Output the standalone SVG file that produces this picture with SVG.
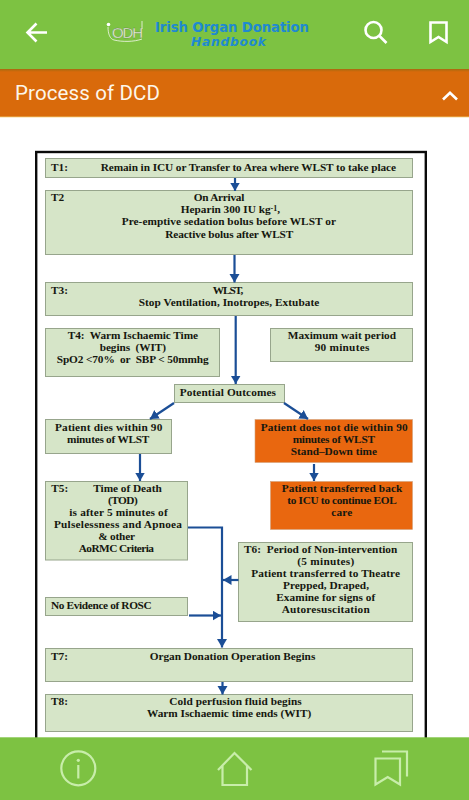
<svg xmlns="http://www.w3.org/2000/svg" width="469" height="800" viewBox="0 0 469 800">
<style>
.box{fill:#d6e5c8;stroke:#97a58c;stroke-width:1}
.obox{fill:#e9670f;stroke:#d2a27c;stroke-width:.6}
text{font-family:"Liberation Serif","DejaVu Serif",serif;font-weight:700;font-size:11.3px;fill:#15170f;white-space:pre}
.conn{fill:none;stroke:#1b4e96;stroke-width:2.2}
.ic{fill:none;stroke:#fff;stroke-width:2.6}
.fi{fill:none;stroke:#c8edaa;stroke-width:2.2}
</style>
<defs>
<marker id="ah" markerUnits="userSpaceOnUse" markerWidth="10" markerHeight="11" refX="8.5" refY="5" orient="auto"><path d="M0 0L8.5 5L0 10Z" fill="#1b4e96"/></marker>
<linearGradient id="sh" x1="0" y1="0" x2="0" y2="1"><stop offset="0" stop-color="#a86a10"/><stop offset="1" stop-color="#d96a0b"/></linearGradient>
</defs>
<rect width="469" height="800" fill="#fff"/>
<g id="frame"><rect x="36.2" y="152" width="389.6" height="640" fill="#fff" stroke="#0a0a0a" stroke-width="2.4"/></g>

<g id="t1"><rect class="box" x="45.5" y="158.5" width="367" height="19"/>
<text x="51" y="171">T1:</text><text x="100.7" y="171" textLength="295.3">Remain in ICU or Transfer to Area where WLST to take place</text></g>
<g id="t2"><rect class="box" x="45.5" y="190.5" width="367" height="64"/>
<text x="51" y="201">T2</text>
<text x="193.7" y="201" textLength="50.6">On Arrival</text>
<text x="180.7" y="213" textLength="99.3">Heparin 300 IU kg<tspan dy="-2.5" font-size="8">-1</tspan><tspan dy="2.5">,</tspan></text>
<text x="121.7" y="225" textLength="214.3">Pre-emptive sedation bolus before WLST or</text>
<text x="165.3" y="237.5" textLength="128">Reactive bolus after WLST</text></g>
<g id="t3"><rect class="box" x="45.5" y="282.5" width="367" height="33"/>
<text x="51" y="293.5">T3:</text>
<text x="212.7" y="293.5" textLength="30.6">WLST,</text>
<text x="138.7" y="305.5" textLength="180.6">Stop Ventilation, Inotropes, Extubate</text></g>
<g id="t4"><rect class="box" x="45.5" y="328.5" width="174" height="48"/>
<text x="67.7" y="338.8" textLength="130.3">T4:  Warm Ischaemic Time</text>
<text x="99.7" y="350.8" textLength="66.3">begins  (WIT)</text>
<text x="56.7" y="363.2" textLength="152">SpO2 &lt;70%  or  SBP &lt; 50mmhg</text></g>
<g id="max-wait"><rect class="box" x="270.5" y="328.5" width="142" height="33"/>
<text x="287.7" y="338.8" textLength="108.3">Maximum wait period</text>
<text x="314.7" y="350.8" textLength="54.6">90 minutes</text></g>
<g id="outcomes"><rect class="box" x="174.5" y="384.5" width="110" height="18"/>
<text x="179.7" y="395.5" textLength="96.3">Potential Outcomes</text></g>
<g id="dies"><rect class="box" x="45.5" y="419.5" width="126" height="34"/>
<text x="55" y="430.5" textLength="107.3">Patient dies within 90</text>
<text x="67" y="442.8" textLength="82.3">minutes of WLST</text></g>
<g id="not-die"><rect class="obox" x="255" y="419.5" width="157.5" height="43"/>
<text x="260.7" y="430.5" textLength="147">Patient does not die within 90</text>
<text x="292.7" y="442.8" textLength="82.3">minutes of WLST</text>
<text x="290.7" y="454.5" textLength="86.3">Stand–Down time</text></g>
<g id="t5"><rect class="box" x="45.5" y="481.5" width="142" height="78.5"/>
<text x="51.3" y="491.8">T5:</text>
<text x="93.3" y="491.8" textLength="68.4">Time of Death</text>
<text x="108" y="503.8" textLength="29.7">(TOD)</text>
<text x="69.3" y="515.8" textLength="98.4">is after 5 minutes of</text>
<text x="54" y="527.8" textLength="128">Pulselessness and Apnoea</text>
<text x="98.3" y="539.5" textLength="36.7">&amp; other</text>
<text x="78.7" y="551.5" textLength="75.3">AoRMC Criteria</text></g>
<g id="back-icu"><rect class="obox" x="270.5" y="481.5" width="142" height="48"/>
<text x="281.7" y="491.8" textLength="120.6">Patient transferred back</text>
<text x="287.3" y="503.8" textLength="109.4">to ICU to continue EOL</text>
<text x="331.3" y="515.8" textLength="21">care</text></g>
<g id="t6"><rect class="box" x="238.5" y="542.5" width="174" height="79"/>
<text x="244" y="552.8" textLength="153.3">T6:  Period of Non-intervention</text>
<text x="297.3" y="564.8" textLength="57">(5 minutes)</text>
<text x="251.3" y="576.8" textLength="148.7">Patient transferred to Theatre</text>
<text x="283" y="588.8" textLength="86">Prepped, Draped,</text>
<text x="276.3" y="600.8" textLength="99">Examine for signs of</text>
<text x="281.7" y="612.5" textLength="88">Autoresuscitation</text></g>
<g id="rosc"><rect class="box" x="45.5" y="597.5" width="142" height="18"/>
<text x="51" y="608.5" textLength="100.7">No Evidence of ROSC</text></g>
<g id="t7"><rect class="box" x="45.5" y="648.5" width="367" height="33"/>
<text x="51" y="659.5">T7:</text>
<text x="149.7" y="659.5" textLength="165.6">Organ Donation Operation Begins</text></g>
<g id="t8"><rect class="box" x="45.5" y="694.5" width="367" height="37"/>
<text x="51" y="705.2">T8:</text>
<text x="169.3" y="705.2" textLength="132.4">Cold perfusion fluid begins</text>
<text x="147" y="717.2" textLength="164.3">Warm Ischaemic time ends (WIT)</text></g>

<g id="connectors">
<path class="conn" marker-end="url(#ah)" d="M235 178V191"/>
<path class="conn" marker-end="url(#ah)" d="M234.5 255V282.5"/>
<path class="conn" marker-end="url(#ah)" d="M235.7 316V384"/>
<path class="conn" marker-end="url(#ah)" d="M174 403L150 419"/>
<path class="conn" marker-end="url(#ah)" d="M284 403L308 419"/>
<path class="conn" marker-end="url(#ah)" d="M140 454V481"/>
<path class="conn" marker-end="url(#ah)" d="M314 464V481"/>
<path class="conn" marker-end="url(#ah)" d="M188 527.5H222V647.5"/>
<path class="conn" marker-end="url(#ah)" d="M238.5 580H223"/>
<path class="conn" marker-end="url(#ah)" d="M189 615.5H221"/>
<path class="conn" marker-end="url(#ah)" d="M222.5 682V694.5"/>
</g>

<g id="header">
<rect width="469" height="70" fill="#7dc242"/>
<rect y="69" width="469" height="48" fill="#d96a0b"/>
<rect y="69" width="469" height="3" fill="url(#sh)"/>
<rect y="116.5" width="469" height=".8" fill="#f0c060"/>
<path class="ic" d="M47 32.5H28M36.5 23.5L27.5 32.5L36.5 41.5"/>
<text x="112" y="38" style="font-family:'Liberation Sans',sans-serif;font-weight:400;font-size:15px;fill:#eef5e3;stroke:#5d7a4a;stroke-width:.3" textLength="31">ODH</text>
<path d="M108 27c0 7 2 12 6 13c8 2 20 2 28-1" fill="none" stroke="#f4f8ee" stroke-width=".8"/>
<path d="M142 21v8" fill="none" stroke="#f4f8ee" stroke-width=".8"/>
<circle cx="108.5" cy="24.5" r="1.8" fill="#fff"/>
<text x="155" y="32" textLength="154" style="font-family:'DejaVu Sans',sans-serif;font-weight:700;font-size:13.3px;fill:#1f8ad0">Irish Organ Donation</text>
<text x="191" y="46" textLength="75" style="font-family:'DejaVu Sans',sans-serif;font-weight:700;font-style:italic;font-size:12.3px;fill:#1f8ad0">Handbook</text>
<circle class="ic" cx="373.5" cy="30" r="8"/>
<path class="ic" d="M379.5 36L386.5 43"/>
<path class="ic" d="M430.5 22.5H446.5V42L438.5 37L430.5 42Z"/>
<text x="15" y="100" textLength="145" style="font-family:Roboto,sans-serif;font-weight:400;font-size:20.5px;fill:#fdf6ea">Process of DCD</text>
<path class="ic" d="M443 99.5L450 92.8L457 99.5" stroke-width="3"/>
</g>

<g id="footer">
<rect y="737.3" width="469" height="62.7" fill="#7dc242"/>
<circle class="fi" cx="78.3" cy="768.3" r="17"/>
<circle cx="78.3" cy="760.3" r="1.6" fill="#c8edaa"/>
<path class="fi" d="M78.3 765V778.5"/>
<path class="fi" d="M218 770L234.5 753L251.5 770M222.5 766V785H247V766"/>
<path class="fi" d="M375.5 758.5H400V784.5L387.7 777L375.5 784.5Z"/>
<path class="fi" d="M382 751.5H407V776.5"/>
</g>
</svg>
